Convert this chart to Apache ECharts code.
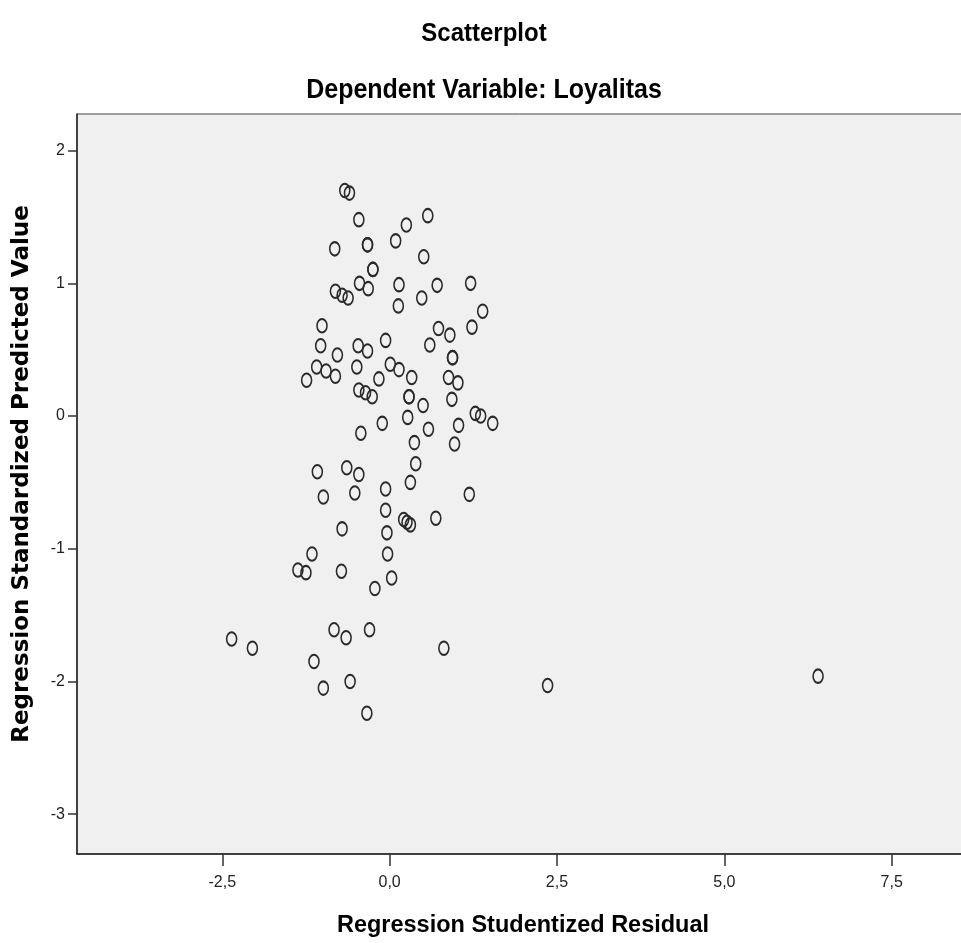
<!DOCTYPE html>
<html>
<head>
<meta charset="utf-8">
<title>Scatterplot</title>
<script src="https://cdn.jsdelivr.net/npm/echarts@6/dist/echarts.min.js"></script>
<style>
  html, body { margin: 0; padding: 0; background: #fff; }
  #chart { width: 961px; height: 943px; }
</style>
</head>
<body>
<div id="chart"></div>
<script>
// Regression Studentized Residual (x) and Regression Standardized Predicted Value (y)
var residual = [
  -0.67, -0.60, -0.46, 0.57, 0.25, -0.82, -0.33, -0.33, 0.09, 0.51,
  -0.25, -0.25, -0.45, -0.32, -0.81, -0.71, -0.62, 0.14, 0.13, 0.48,
  0.71, 1.21, 1.39, -1.01, 0.73, 0.90, 1.23, -1.03, -0.47, -0.33,
  -0.06, -0.78, 0.60, 0.94, 0.94, -1.09, -0.95, -0.81, -1.24, -0.49,
  0.01, 0.14, 0.33, -0.16, 0.88, 1.02, -0.46, -0.36, -0.26, 0.29,
  0.29, 0.50, 0.93, 1.28, 1.36, 1.54, 0.27, -0.11, -0.43, 0.58,
  1.03, 0.37, 0.97, 0.39, -1.08, -0.64, -0.46, 0.31, -0.99, -0.52,
  -0.06, 1.19, -0.06, 0.21, 0.26, 0.31, 0.69, -0.71, -0.04, -0.03,
  -1.16, -1.37, -1.25, -0.72, 0.03, -0.22, -2.36, -2.05, -0.83, -0.65,
  -0.30, 0.81, -1.13, -0.99, -0.59, -0.34, 2.36, 6.40
];
var predicted = [
  1.70, 1.68, 1.48, 1.51, 1.44, 1.26, 1.29, 1.29, 1.32, 1.20,
  1.105, 1.105, 1.00, 0.96, 0.94, 0.91, 0.89, 0.99, 0.83, 0.89,
  0.985, 1.00, 0.79, 0.68, 0.66, 0.61, 0.67, 0.53, 0.53, 0.49,
  0.57, 0.46, 0.535, 0.44, 0.44, 0.37, 0.34, 0.30, 0.27, 0.37,
  0.39, 0.35, 0.29, 0.28, 0.29, 0.25, 0.196, 0.176, 0.146, 0.146,
  0.146, 0.08, 0.126, 0.02, 0.00, -0.055, -0.01, -0.055, -0.13, -0.10,
  -0.07, -0.20, -0.21, -0.36, -0.42, -0.39, -0.44, -0.50, -0.61, -0.58,
  -0.55, -0.59, -0.71, -0.78, -0.80, -0.82, -0.77, -0.85, -0.88, -1.04,
  -1.04, -1.16, -1.18, -1.17, -1.22, -1.30, -1.68, -1.75, -1.61, -1.67,
  -1.61, -1.75, -1.85, -2.05, -2.00, -2.24, -2.03, -1.96
];
var xTicks = [-2.5, 0, 2.5, 5, 7.5];
var yTicks = [-3, -2, -1, 0, 1, 2];

var points = residual.map(function (x, i) { return [x, predicted[i]]; });

var chart = echarts.init(document.getElementById('chart'));

var boldFont = 'Liberation Sans, Arial, sans-serif';

// 标题和轴名称用 graphic 文本画
function label(text, x, y, size, opts) {
  opts = opts || {};
  return {
    type: 'text',
    x: x,
    y: y,
    rotation: opts.rotation || 0,
    scaleY: opts.scaleY || 1,
    style: {
      text: text,
      fill: '#000',
      font: 'bold ' + size + 'px ' + (opts.family || boldFont),
      textAlign: 'center',
      textVerticalAlign: 'middle'
    },
    silent: true
  };
}

var option = {
  backgroundColor: '#ffffff',
  animation: false,
  graphic: [
    label('Scatterplot', 484, 34, 24, { scaleY: 1.1 }),
    label('Dependent Variable: Loyalitas', 484, 90, 25, { scaleY: 1.12 }),
    label('Regression Studentized Residual', 523, 925, 23.5, { scaleY: 1.05 }),
    label('Regression Standardized Predicted Value', 22, 474, 23, { rotation: Math.PI / 2, family: 'DejaVu Sans, sans-serif' })
  ],
  grid: {
    left: 77,
    top: 114,
    right: -1,
    bottom: 89,
    outerBoundsMode: 'none',
    containLabel: false,
    show: true,
    backgroundColor: '#f0f0f0',
    borderColor: '#444',
    borderWidth: 1
  },
  xAxis: {
    type: 'value',
    min: -4.67,
    max: 8.55,
    splitLine: { show: false },
    axisLine: { show: true, onZero: false, lineStyle: { color: '#222', width: 1.5 } },
    axisTick: { show: true, customValues: xTicks, length: 12, lineStyle: { color: '#333', width: 1.5 } },
    axisLabel: {
      customValues: xTicks,
      margin: 21,
      fontFamily: 'Liberation Sans, Arial, sans-serif',
      fontSize: 16,
      color: '#222',
      formatter: function (v) { return v.toFixed(1).replace('.', ','); }
    }
  },
  yAxis: {
    type: 'value',
    min: -3.3,
    max: 2.276,
    splitLine: { show: false },
    axisLine: { show: true, onZero: false, lineStyle: { color: '#222', width: 1.5 } },
    axisTick: { show: true, customValues: yTicks, length: 9, lineStyle: { color: '#333', width: 1.5 } },
    axisLabel: {
      customValues: yTicks,
      margin: 12,
      fontFamily: 'Liberation Sans, Arial, sans-serif',
      fontSize: 16,
      color: '#222'
    }
  },
  series: [{
    type: 'scatter',
    data: points,
    symbol: 'circle',
    symbolSize: [10, 13.5],
    itemStyle: { color: 'rgba(0,0,0,0)', borderColor: '#2a2a2a', borderWidth: 1.8, opacity: 1 },
    emphasis: { disabled: true }
  }]
};

chart.setOption(option);
</script>
</body>
</html>
